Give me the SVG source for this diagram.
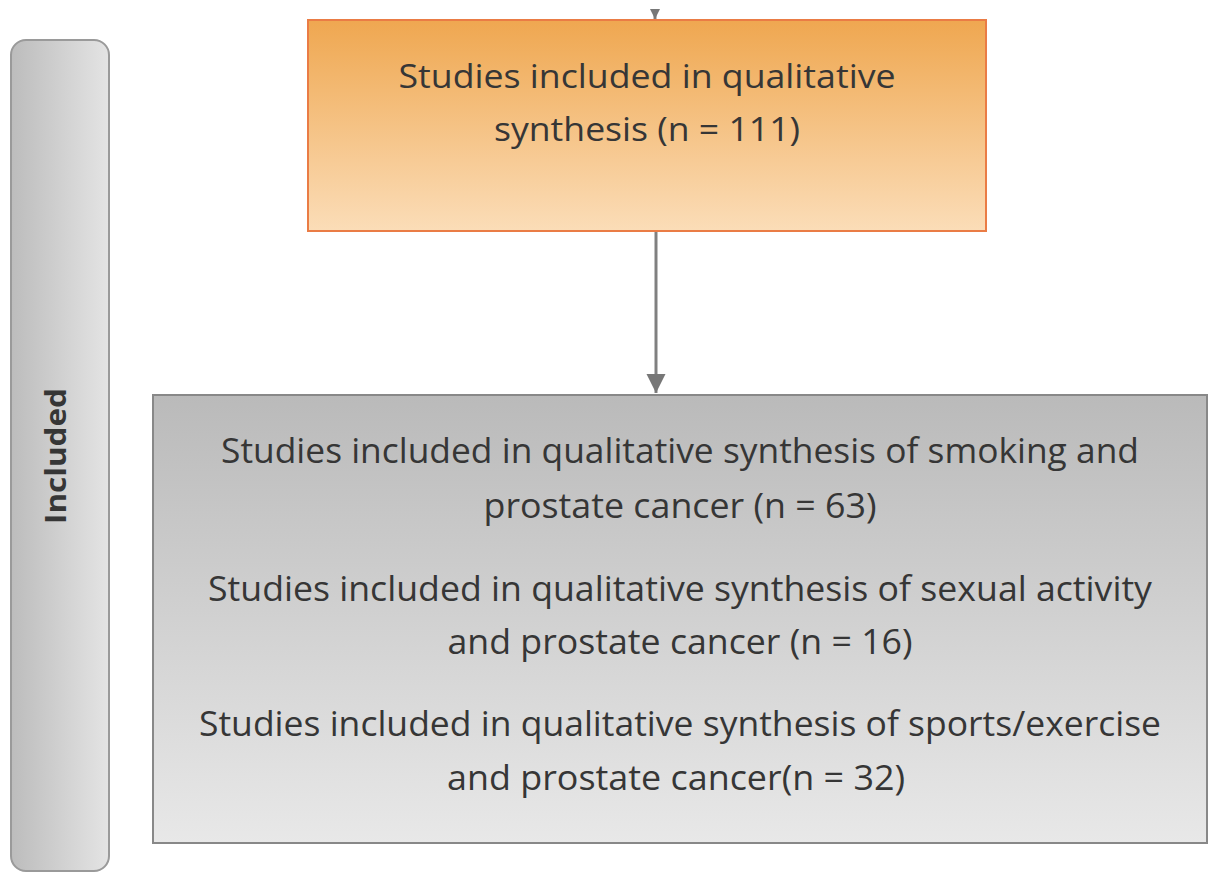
<svg xmlns="http://www.w3.org/2000/svg" width="1209" height="873" viewBox="0 0 1209 873">
  <defs>
    <linearGradient id="gSide" x1="0" y1="0" x2="1" y2="0">
      <stop offset="0" stop-color="#bcbcbc"/>
      <stop offset="1" stop-color="#e4e4e4"/>
    </linearGradient>
    <linearGradient id="gOrange" x1="0" y1="0" x2="0" y2="1">
      <stop offset="0" stop-color="#efa750"/>
      <stop offset="1" stop-color="#fbddb8"/>
    </linearGradient>
    <linearGradient id="gGray" x1="0" y1="0" x2="0" y2="1">
      <stop offset="0" stop-color="#bababa"/>
      <stop offset="1" stop-color="#e8e8e8"/>
    </linearGradient>
    <marker id="arrow" viewBox="0 0 10 10" refX="10" refY="5" markerWidth="6.5" markerHeight="6.5" markerUnits="strokeWidth" orient="auto">
      <path d="M0,0 L10,5 L0,10 z" fill="#777777"/>
    </marker>
    <clipPath id="clipTop">
      <rect x="0" y="9" width="1209" height="864"/>
    </clipPath>
    <style>
      .lbl { font-family: "Open Sans", "Liberation Sans", sans-serif; fill: #363636; text-anchor: middle; }
      .conn { stroke: #808080; stroke-width: 3; fill: none; }
    </style>
  </defs>

  <rect width="1209" height="873" fill="#ffffff"/>

  <!-- stage label bar -->
  <g id="stage-included">
    <rect x="11" y="40" width="98" height="831" rx="15" ry="15" fill="url(#gSide)" stroke="#9a9a9a" stroke-width="2"/>
    <text class="lbl" transform="translate(66,456) rotate(-90)" font-size="29" font-weight="bold" textLength="136" lengthAdjust="spacingAndGlyphs">Included</text>
  </g>

  <!-- connectors -->
  <g id="connectors">
    <line class="conn" x1="655" y1="-30" x2="655" y2="19" marker-end="url(#arrow)" clip-path="url(#clipTop)"/>
    <line class="conn" x1="656" y1="232" x2="656" y2="393" marker-end="url(#arrow)"/>
  </g>

  <!-- total included studies -->
  <g id="node-total">
    <rect x="308" y="20" width="678" height="211" fill="url(#gOrange)" stroke="#ea7c45" stroke-width="2"/>
    <text class="lbl" x="647" y="88" font-size="32" textLength="497" lengthAdjust="spacingAndGlyphs">Studies included in qualitative</text>
    <text class="lbl" x="647" y="141" font-size="32" textLength="306" lengthAdjust="spacingAndGlyphs">synthesis (n = 111)</text>
  </g>

  <!-- studies by exposure -->
  <g id="node-breakdown">
    <rect x="153" y="395" width="1054" height="448" fill="url(#gGray)" stroke="#888888" stroke-width="2"/>
    <text class="lbl" x="680" y="463" font-size="34" textLength="918" lengthAdjust="spacingAndGlyphs">Studies included in qualitative synthesis of smoking and</text>
    <text class="lbl" x="680" y="518" font-size="34" textLength="393" lengthAdjust="spacingAndGlyphs">prostate cancer (n = 63)</text>
    <text class="lbl" x="680" y="601" font-size="34" textLength="944" lengthAdjust="spacingAndGlyphs">Studies included in qualitative synthesis of sexual activity</text>
    <text class="lbl" x="680" y="654" font-size="34" textLength="465" lengthAdjust="spacingAndGlyphs">and prostate cancer (n = 16)</text>
    <text class="lbl" x="680" y="736" font-size="34" textLength="962" lengthAdjust="spacingAndGlyphs">Studies included in qualitative synthesis of sports/exercise</text>
    <text class="lbl" x="676" y="790" font-size="34" textLength="458" lengthAdjust="spacingAndGlyphs">and prostate cancer(n = 32)</text>
  </g>
</svg>
